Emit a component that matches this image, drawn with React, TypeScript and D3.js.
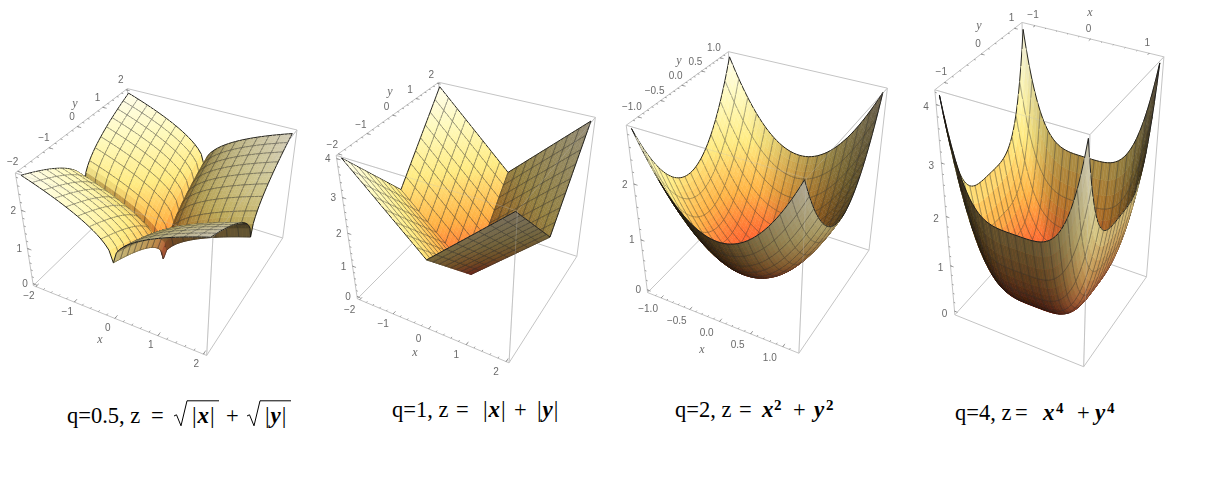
import { useEffect, useRef } from 'react'
import * as d3 from 'd3'

// exponents and plotted half-ranges of the four panels
const exponents = [0.5, 1, 2, 4]
const halfRanges = [2, 2, 1.2, 1.2]
const zBoxTops = [2.9, 4.08, 2.94, 4.24]

const xyMajorTicks = [
  [-2, -1, 0, 1, 2],
  [-2, -1, 0, 1, 2],
  [-1, -0.5, 0, 0.5, 1],
  [-1, 0, 1],
]
const xyTickDigits = [0, 0, 1, 0]
const xyMinorSteps = [0.2, 0.2, 0.1, 0.2]
const zMajorTicks = [
  [0, 1, 2],
  [0, 1, 2, 3, 4],
  [0, 1, 2],
  [0, 1, 2, 3, 4],
]

// camera calibration: box corners as seen on the page
// order: (-,-,top) (-,+,top) (+,+,top) (+,-,top) (-,-,0) (+,-,0) (+,+,0)
const boxCornerViews = [
  [[15, 174], [127.7, 88.3], [296.7, 130], [213.3, 236.7], [33.3, 285], [206.7, 355.7], [282.7, 238.3]],
  [[336.7, 154.3], [438.3, 82.7], [596, 117.3], [516.7, 211.7], [357.3, 299.3], [509.3, 362.7], [576.7, 256]],
  [[626.7, 125], [728.3, 51.7], [888.3, 88.3], [805, 178.3], [647.3, 292.7], [800, 353.3], [868.3, 250]],
  [[935, 89.3], [1021.7, 22.7], [1164, 56.7], [1090, 135], [955, 315], [1083.3, 366.7], [1146.7, 276.7]],
]
const boxUnitCorners = [[0, 0, 1], [0, 1, 1], [1, 1, 1], [1, 0, 1], [0, 0, 0], [1, 0, 0], [1, 1, 0]]

const xLabelOffsets = [[-7, 9], [-10, 10], [-13, 11], [-2, -11]]
const yLabelOffsets = [[-5, -10], [-6, -9], [-6, -10], [-3, -11]]
const zLabelOffsets = [[-8, 0], [-9, 0], [-9, 0], [-10, 2]]
const xTitlePositions = [[100, 339], [415, 352], [702, 349], [1090, 12]]
const yTitlePositions = [[75, 103], [390, 91], [679, 60], [979, 25]]
const meshWidths = [1, 1, 0.8, 0.8]

const GRID_CELLS = 48
const MESH_EVERY = 3

const COLOR_STOPS = [0, 0.1, 0.3, 0.55, 0.8, 1]
const COLOR_VALUES = ['#ff4628', '#ff6e32', '#ffb446', '#ffeb82', '#fffabe', '#fffdeb']
const heightColor = d3.scaleLinear<string>().domain(COLOR_STOPS).range(COLOR_VALUES).clamp(true)

type V3 = [number, number, number]

// least squares fit of a 3x4 projective matrix (last element fixed to 1)
function fitCamera(world: number[][], view: number[][]) {
  const n = 11
  const ata = d3.range(n).map(() => new Array(n + 1).fill(0))
  const addRow = (row: number[], rhs: number) => {
    for (let i = 0; i < n; i++) {
      for (let j = 0; j < n; j++) ata[i][j] += row[i] * row[j]
      ata[i][n] += row[i] * rhs
    }
  }
  world.forEach(([X, Y, Z], i) => {
    const [x, y] = view[i]
    addRow([X, Y, Z, 1, 0, 0, 0, 0, -x * X, -x * Y, -x * Z], x)
    addRow([0, 0, 0, 0, X, Y, Z, 1, -y * X, -y * Y, -y * Z], y)
  })
  for (let c = 0; c < n; c++) {
    let pivot = c
    for (let r = c + 1; r < n; r++) if (Math.abs(ata[r][c]) > Math.abs(ata[pivot][c])) pivot = r
    ;[ata[c], ata[pivot]] = [ata[pivot], ata[c]]
    for (let r = 0; r < n; r++) {
      if (r === c) continue
      const f = ata[r][c] / ata[c][c]
      for (let k = c; k <= n; k++) ata[r][k] -= f * ata[c][k]
    }
  }
  const p = ata.map((row, i) => row[n] / row[i])
  return (u: number, v: number, w: number) => {
    const d = p[8] * u + p[9] * v + p[10] * w + 1
    return {
      x: (p[0] * u + p[1] * v + p[2] * w + p[3]) / d,
      y: (p[4] * u + p[5] * v + p[6] * w + p[7]) / d,
      depth: d,
    }
  }
}

function shade(n: V3, top: boolean, t: number) {
  const len = Math.hypot(n[0], n[1], n[2]) || 1
  const s = top ? 1 : -1
  const nx = (s * n[0]) / len
  const ny = (s * n[1]) / len
  const nz = (s * n[2]) / len
  let light = 0.55 + 0.45 * nx - 0.05 * ny + 0.45 * nz
  light = Math.max(0.1, Math.min(1, light))
  if (nz < 0) light = Math.pow(light, 1.35)
  const c = d3.rgb(heightColor(t))
  const grey = (c.r + c.g + c.b) / 3
  const mix = top ? 0 : 0.3
  return d3.rgb(
    (c.r + (grey - c.r) * mix) * light,
    (c.g + (grey - c.g) * mix) * Math.pow(light, 1.1),
    (c.b + (grey - c.b) * mix) * Math.pow(light, 1.25),
  ).formatHex()
}

function drawPanel(root: d3.Selection<SVGGElement, unknown, null, undefined>, idx: number) {
  const q = exponents[idx]
  const r = halfRanges[idx]
  const zTop = zBoxTops[idx]
  const zMax = 2 * Math.pow(r, q)
  const pad = r * 0.035
  const sXY = d3.scaleLinear().domain([-r - pad, r + pad]).range([0, 1])
  const sZ = d3.scaleLinear().domain([-0.02 * zTop, zTop]).range([0, 1])
  const cam = fitCamera(boxUnitCorners, boxCornerViews[idx])
  const project = (x: number, y: number, z: number) => cam(sXY(x), sXY(y), sZ(z))
  const line = d3.line<{ x: number; y: number }>().x((d) => d.x).y((d) => d.y)
  const seg = (a: number[], b: number[]) => {
    const pa = cam(a[0], a[1], a[2])
    const pb = cam(b[0], b[1], b[2])
    return line([pa, pb]) as string
  }

  const g = root.append('g').attr('filter', 'url(#soft)')

  // box edges behind the surface
  const boxColor = '#c4c4c4'
  const backEdges = [
    [[0, 0, 0], [1, 0, 0]], [[0, 0, 0], [0, 1, 0]], [[1, 0, 0], [1, 1, 0]], [[0, 1, 0], [1, 1, 0]],
    [[0, 0, 0], [0, 0, 1]], [[1, 1, 0], [1, 1, 1]], [[0, 1, 0], [0, 1, 1]], [[1, 0, 0], [1, 0, 1]],
    [[0, 0, 1], [0, 1, 1]], [[0, 1, 1], [1, 1, 1]], [[0, 0, 1], [1, 0, 1]], [[1, 0, 1], [1, 1, 1]],
  ]
  g.selectAll('path.box').data(backEdges).join('path').attr('class', 'box')
    .attr('d', (d) => seg(d[0], d[1]))
    .attr('fill', 'none').attr('stroke', boxColor).attr('stroke-width', 1)

  // ticks
  const majors = xyMajorTicks[idx]
  const minorStep = xyMinorSteps[idx]
  const minors = d3.range(Math.ceil(-r / minorStep), Math.floor(r / minorStep) + 1).map((i) => i * minorStep)
  const fmt = d3.format(`.${xyTickDigits[idx]}f`)
  const topAxis = idx === 3
  const xEdge = (x: number, len: number): number[][] => topAxis
    ? [[sXY(x), 1, 1], [sXY(x), 1 - len, 1]]
    : [[sXY(x), 0, 0], [sXY(x), len, 0]]
  const yEdge = (y: number, len: number): number[][] => [[0, sXY(y), 1], [len, sXY(y), 1]]
  const zEdge = (z: number, len: number): number[][] => [[0, 0, sZ(z)], [len, 0, sZ(z)]]
  const zMinors = d3.range(0, Math.floor(zTop / 0.2) + 1).map((i) => i * 0.2)
  const tickSegs: number[][][] = [
    ...minors.map((v) => xEdge(v, 0.012)),
    ...majors.map((v) => xEdge(v, 0.025)),
    ...minors.map((v) => yEdge(v, 0.012)),
    ...majors.map((v) => yEdge(v, 0.025)),
    ...zMinors.map((v) => zEdge(v, 0.012)),
    ...zMajorTicks[idx].map((v) => zEdge(v, 0.025)),
  ]
  g.selectAll('path.tick').data(tickSegs).join('path').attr('class', 'tick')
    .attr('d', (d) => seg(d[0], d[1]))
    .attr('fill', 'none').attr('stroke', '#8a8a8a').attr('stroke-width', 0.8)

  // surface quads, far ones first
  const N = GRID_CELLS
  const grid = d3.range(N + 1).map((i) => -r + (2 * r * i) / N)
  const height = (x: number, y: number) => Math.pow(Math.abs(x), q) + Math.pow(Math.abs(y), q)
  const pts = grid.map((x) => grid.map((y) => project(x, y, height(x, y))))
  const quads: any[] = []
  for (let i = 0; i < N; i++) {
    for (let j = 0; j < N; j++) {
      const corners = [pts[i][j], pts[i + 1][j], pts[i + 1][j + 1], pts[i][j + 1]]
      const w = [[i, j], [i + 1, j], [i + 1, j + 1], [i, j + 1]].map(([a, b]) => [grid[a], grid[b], height(grid[a], grid[b])])
      const d1 = [w[2][0] - w[0][0], w[2][1] - w[0][1], w[2][2] - w[0][2]]
      const d2 = [w[3][0] - w[1][0], w[3][1] - w[1][1], w[3][2] - w[1][2]]
      const normal: V3 = [
        d1[1] * d2[2] - d1[2] * d2[1],
        d1[2] * d2[0] - d1[0] * d2[2],
        d1[0] * d2[1] - d1[1] * d2[0],
      ]
      let area = 0
      corners.forEach((p, k) => {
        const o = corners[(k + 1) % 4]
        area += p.x * o.y - o.x * p.y
      })
      const top = area < 0
      const t = d3.mean(w, (d) => d[2])! / zMax
      const fill = shade(normal, top, t)
      const mesh: any[][] = []
      const bound: any[][] = []
      if (i % MESH_EVERY === 0 && i > 0) mesh.push([corners[0], corners[3]])
      if ((i + 1) % MESH_EVERY === 0 && i + 1 < N) mesh.push([corners[1], corners[2]])
      if (j % MESH_EVERY === 0 && j > 0) mesh.push([corners[0], corners[1]])
      if ((j + 1) % MESH_EVERY === 0 && j + 1 < N) mesh.push([corners[3], corners[2]])
      if (i === 0) bound.push([corners[0], corners[3]])
      if (i === N - 1) bound.push([corners[1], corners[2]])
      if (j === 0) bound.push([corners[0], corners[1]])
      if (j === N - 1) bound.push([corners[3], corners[2]])
      quads.push({ corners, fill, mesh, bound, depth: d3.mean(corners, (c) => c.depth)! })
    }
  }
  quads.sort((a, b) => b.depth - a.depth)
  const surface = g.append('g')
  quads.forEach((quad) => {
    surface.append('path')
      .attr('d', `${line(quad.corners)}Z`)
      .attr('fill', quad.fill).attr('stroke', quad.fill).attr('stroke-width', 0.5)
    if (quad.mesh.length) {
      surface.append('path')
        .attr('d', quad.mesh.map((m: any) => line(m)).join(''))
        .attr('fill', 'none').attr('stroke', '#2a2a2a').attr('stroke-opacity', 0.42).attr('stroke-width', meshWidths[idx])
    }
    if (quad.bound.length) {
      surface.append('path')
        .attr('d', quad.bound.map((m: any) => line(m)).join(''))
        .attr('fill', 'none').attr('stroke', '#1a1a1a').attr('stroke-width', 0.95)
    }
  })

  // near box edges show faintly through the surface
  const frontEdges = [[[0, 0, 1], [1, 0, 1]], [[1, 0, 1], [1, 1, 1]], [[1, 0, 0], [1, 0, 1]]]
  g.selectAll('path.front').data(frontEdges).join('path').attr('class', 'front')
    .attr('d', (d) => seg(d[0], d[1]))
    .attr('fill', 'none').attr('stroke', boxColor).attr('stroke-width', 0.9).attr('stroke-opacity', 0.3)

  // tick labels
  const labelFont = '"Liberation Sans", sans-serif'
  const label = (p: { x: number; y: number }, off: number[], text: string) => {
    g.append('text')
      .attr('x', p.x + off[0]).attr('y', p.y + off[1])
      .attr('text-anchor', 'middle').attr('dominant-baseline', 'central')
      .attr('font-family', labelFont).attr('font-size', 10).attr('fill', '#6a6a6a')
      .text(text.replace('-', '\u2212'))
  }
  majors.forEach((v) => {
    const ex = xEdge(v, 0)[0]
    label(cam(ex[0], ex[1], ex[2]), xLabelOffsets[idx], fmt(v))
    const ey = yEdge(v, 0)[0]
    label(cam(ey[0], ey[1], ey[2]), yLabelOffsets[idx], fmt(v))
  })
  zMajorTicks[idx].forEach((v) => {
    const ez = zEdge(v, 0)[0]
    label(cam(ez[0], ez[1], ez[2]), zLabelOffsets[idx], String(v))
  })
  const titles: [number[], string][] = [[xTitlePositions[idx], 'x'], [yTitlePositions[idx], 'y']]
  titles.forEach(([pos, text]) => {
    g.append('text')
      .attr('x', pos[0]).attr('y', pos[1])
      .attr('text-anchor', 'middle').attr('dominant-baseline', 'central')
      .attr('font-family', '"Liberation Serif", serif').attr('font-style', 'italic')
      .attr('font-size', 12).attr('fill', '#6a6a6a')
      .text(text)
  })
}

const SERIF = '"Liberation Serif", serif'
const CAPTION_SIZE = 22.5

function Plain({ x, y, children }: any) {
  return <text x={x} y={y} fontFamily={SERIF} fontSize={CAPTION_SIZE} fill="#000">{children}</text>
}
function MathVar({ x, y, children }: any) {
  return <text x={x} y={y} fontFamily={SERIF} fontSize={23} fontStyle="italic" fontWeight="bold" fill="#000">{children}</text>
}
// |x| with upright thin bars round the bold letter
function Abs({ x, y, v }: any) {
  return (
    <text x={x} y={y} fontFamily={SERIF} fontSize={23} fill="#000">
      |<tspan fontStyle="italic" fontWeight="bold" dx={1}>{v}</tspan><tspan dx={1}>|</tspan>
    </text>
  )
}
function Sup({ x, y, children }: any) {
  return <text x={x} y={y} fontFamily={SERIF} fontSize={15} fontWeight="bold" fill="#000">{children}</text>
}
function Radical({ x, end, y }: any) {
  // small check mark with its bar, from x to end above baseline y
  return (
    <path
      d={`M${x} ${y - 7}l2.5 -1.2l4.5 11l6 -25H${end}`}
      fill="none" stroke="#000" strokeWidth={1}
    />
  )
}

export default function App() {
  const ref = useRef<SVGGElement>(null)

  useEffect(() => {
    if (!ref.current) return
    const root = d3.select(ref.current)
    root.selectAll('*').remove()
    exponents.forEach((_, i) => drawPanel(root as any, i))
  }, [])

  return (
    <svg width={1206} height={480} style={{ position: 'absolute', left: 0, top: 0, background: '#fff' }}>
      <defs>
        <filter id="soft" x="-5%" y="-5%" width="110%" height="110%">
          <feGaussianBlur stdDeviation={0.55} />
        </filter>
      </defs>
      <g ref={ref} />

      <Plain x={67} y={423}>q=0.5, z</Plain>
      <Plain x={151} y={423}>=</Plain>
      <Radical x={174} end={219} y={423} />
      <Abs x={192} y={423} v="x" />
      <Plain x={226} y={423}>+</Plain>
      <Radical x={247} end={291} y={423} />
      <Abs x={265} y={423} v="y" />

      <Plain x={392} y={417}>q=1, z</Plain>
      <Plain x={456} y={417}>=</Plain>
      <Abs x={483} y={417} v="x" />
      <Plain x={514} y={417}>+</Plain>
      <Abs x={537} y={417} v="y" />

      <Plain x={675} y={417}>q=2, z</Plain>
      <Plain x={739} y={417}>=</Plain>
      <MathVar x={762} y={417}>x</MathVar>
      <Sup x={774} y={410}>2</Sup>
      <Plain x={793} y={417}>+</Plain>
      <MathVar x={814} y={417}>y</MathVar>
      <Sup x={826} y={410}>2</Sup>

      <Plain x={955} y={420}>q=4, z</Plain>
      <Plain x={1015} y={420}>=</Plain>
      <MathVar x={1043} y={420}>x</MathVar>
      <Sup x={1056} y={413}>4</Sup>
      <Plain x={1077} y={420}>+</Plain>
      <MathVar x={1095} y={420}>y</MathVar>
      <Sup x={1107} y={413}>4</Sup>
    </svg>
  )
}
